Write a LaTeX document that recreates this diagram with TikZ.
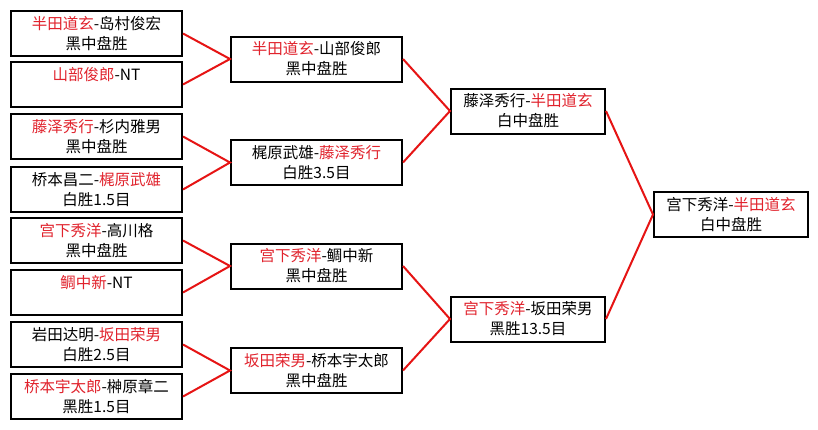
\documentclass[tikz,border=0pt]{standalone}
\usepackage{fontspec}
\setmainfont{Noto Sans CJK SC}
\definecolor{nred}{RGB}{225,35,45}
\definecolor{lred}{RGB}{230,20,20}
\newcommand{\rn}[1]{\textcolor{nred}{#1}}
\begin{document}
\begin{tikzpicture}[x=1pt,y=-1pt,
  match/.style={draw=black, line width=2pt, minimum width=171pt, minimum height=45pt, align=center, inner sep=0pt, font=\fontsize{15.5}{20}\selectfont},
  narrow/.style={match, minimum width=154pt},
  link/.style={draw=lred, line width=2pt}]
\useasboundingbox[fill=white] (0,0) rectangle (818,429);
% round 1
\node[match] (r1a) at (96.5,33.5) {\rn{半田道玄}-岛村俊宏\\黑中盘胜};
\node[match] (r1b) at (96.5,84.5) {\rn{山部俊郎}-NT\\\phantom{黑}};
\node[match] (r1c) at (96.5,136.5) {\rn{藤泽秀行}-杉内雅男\\黑中盘胜};
\node[match] (r1d) at (96.5,189.5) {桥本昌二-\rn{梶原武雄}\\白胜1.5目};
\node[match] (r1e) at (96.5,240.5) {\rn{宫下秀洋}-高川格\\黑中盘胜};
\node[match] (r1f) at (96.5,292.5) {\rn{鲷中新}-NT\\\phantom{黑}};
\node[match] (r1g) at (96.5,344.5) {岩田达明-\rn{坂田荣男}\\白胜2.5目};
\node[match] (r1h) at (96.5,396.5) {\rn{桥本宇太郎}-榊原章二\\黑胜1.5目};
% round 2
\node[match] (r2a) at (316.5,59) {\rn{半田道玄}-山部俊郎\\黑中盘胜};
\node[match] (r2b) at (316.5,162.5) {梶原武雄-\rn{藤泽秀行}\\白胜3.5目};
\node[match] (r2c) at (316.5,266) {\rn{宫下秀洋}-鲷中新\\黑中盘胜};
\node[match] (r2d) at (316.5,370.5) {\rn{坂田荣男}-桥本宇太郎\\黑中盘胜};
% round 3
\node[narrow] (r3a) at (528,111) {藤泽秀行-\rn{半田道玄}\\白中盘胜};
\node[narrow] (r3b) at (528,319) {\rn{宫下秀洋}-坂田荣男\\黑胜13.5目};
% final
\node[narrow] (r4) at (731,214.5) {宫下秀洋-\rn{半田道玄}\\白中盘胜};
% links
\draw[link] (r1a.east) -- (r2a.west) -- (r1b.east);
\draw[link] (r1c.east) -- (r2b.west) -- (r1d.east);
\draw[link] (r1e.east) -- (r2c.west) -- (r1f.east);
\draw[link] (r1g.east) -- (r2d.west) -- (r1h.east);
\draw[link] (r2a.east) -- (r3a.west) -- (r2b.east);
\draw[link] (r2c.east) -- (r3b.west) -- (r2d.east);
\draw[link] (r3a.east) -- (r4.west) -- (r3b.east);
\end{tikzpicture}
\end{document}
